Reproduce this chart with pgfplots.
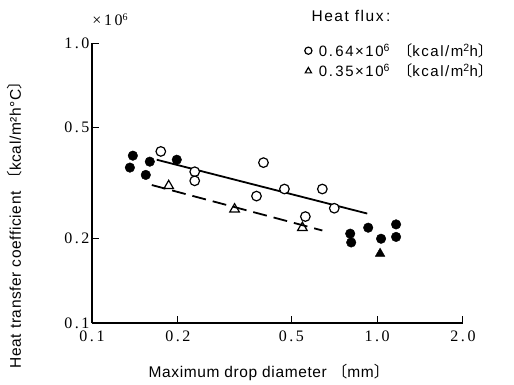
\documentclass[border=0pt]{standalone}
\usepackage{pgfplots}
\pgfplotsset{compat=1.18}
\usepackage{fontspec}
\setmainfont{Liberation Serif}
\setsansfont{Liberation Sans}
\newfontfamily\lab[LetterSpace=4]{Liberation Sans}
\newfontfamily\leg[LetterSpace=10]{Liberation Sans}
\newfontfamily\tickf[LetterSpace=16]{Liberation Serif}
\newfontfamily\cjk{Noto Sans CJK JP}
\begin{document}
\begin{tikzpicture}[x=1pt,y=1pt]
\useasboundingbox (-92,-61) rectangle (422,323);
\begin{axis}[
 at={(0,0)}, anchor=south west,
 scale only axis, width=371pt, height=280pt,
 xmode=log, ymode=log,
 xmin=0.1, xmax=2, ymin=0.1, ymax=1,
 axis x line=bottom, axis y line=left,
 axis line style={-, line width=1.2pt},
 xtick={0.1,0.2,0.5,1,2}, xticklabels={0.1,0.2,0.5,1.0,2.0},
 ytick={0.1,0.2,0.5,1}, yticklabels={0.1,0.2,0.5,1.0},
 xminorticks=false, yminorticks=false,
 tick align=inside, major tick length=7pt,
 every tick/.style={black, line width=1pt},
 tick label style={font=\tickf\fontsize{16}{16}\selectfont},
 xticklabel style={yshift=-4pt},
 yticklabel style={xshift=1pt},
 clip=false,
 legend style={at={(axis description cs:0.573,1.006)}, anchor=north west, draw=none, fill=none, font=\leg\fontsize{15}{17}\selectfont, row sep=2pt, inner sep=0pt},
 legend image post style={mark size=3.6pt, line width=1pt},
 legend cell align=left,
 xlabel={Maximum drop diameter {\cjk 〔}mm{\cjk 〕}},
 ylabel={Heat transfer coefficient {\cjk 〔}kcal/m²h°C{\cjk 〕}},
 every axis x label/.style={at={(axis description cs:0.477,-0.175)}, anchor=center, font=\lab\fontsize{15.5}{15.5}\selectfont},
 every axis y label/.style={at={(axis description cs:-0.2075,0.364)}, rotate=90, anchor=center, font=\lab\fontsize{15.5}{15.5}\selectfont},
]
\addplot[only marks, mark=*, mark size=4.8pt, mark options={draw=black, fill=white, line width=1.2pt}] coordinates {
(0.1743,0.410) (0.2292,0.347) (0.2292,0.322) (0.3994,0.374) (0.3775,0.284)
(0.4730,0.301) (0.6424,0.301) (0.7074,0.257) (0.5601,0.240)};
\addlegendentry{\hspace{5pt}0.\,64×10\textsuperscript{6}\enspace{\cjk 〔}kcal/m\textsuperscript{2}h{\cjk 〕}}
\addplot[only marks, mark=triangle, mark size=5.5pt, mark options={draw=black, fill=white, line width=1.2pt}] coordinates {
(0.1858,0.309) (0.3162,0.255) (0.5468,0.219)};
\addlegendentry{\hspace{5pt}0.\,35×10\textsuperscript{6}\enspace{\cjk 〔}kcal/m\textsuperscript{2}h{\cjk 〕}}
\addplot[forget plot, black, line width=1.8pt] coordinates {(0.1687,0.383) (0.923,0.246)};
\addplot[forget plot, black, line width=1.8pt, dash pattern=on 14pt off 7pt] coordinates {(0.1621,0.311) (0.6424,0.214)};
\addplot[forget plot, only marks, mark=*, mark size=4.8pt, mark options={draw=black, fill=black}] coordinates {
(0.1391,0.396) (0.1358,0.359) (0.1595,0.377) (0.1544,0.338) (0.1983,0.383)
(0.8045,0.2085) (0.8110,0.194) (0.9302,0.219) (1.032,0.200) (1.165,0.225) (1.165,0.203)};
\addplot[forget plot, only marks, mark=triangle*, mark size=5.5pt, mark options={draw=black, fill=black}] coordinates {(1.024,0.177)};
\end{axis}
\node[anchor=west, font=\leg\fontsize{15.5}{15.5}\selectfont] at (216,307) {Heat flux\,:};
\node[font=\tickf\fontsize{16}{16}\selectfont] at (18,303) {×10\raisebox{5pt}{\fontsize{10}{10}\selectfont 6}};
\end{tikzpicture}
\end{document}
